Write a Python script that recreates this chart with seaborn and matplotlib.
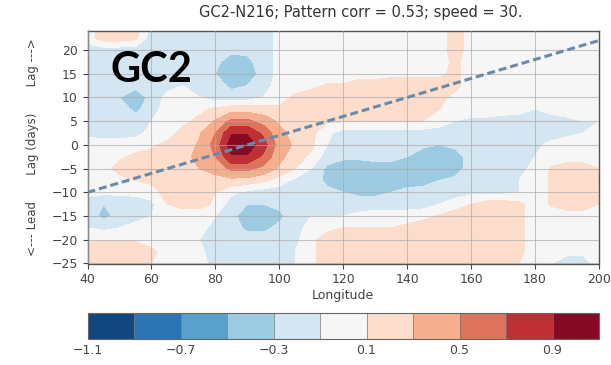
import numpy as np
import matplotlib
matplotlib.use("Agg")
import matplotlib.pyplot as plt
import seaborn as sns

# ---------------- data ----------------
title = "GC2-N216; Pattern corr = 0.53; speed = 30."
panel_label = "GC2"
x_label = "Longitude"
y_label = "<--- Lead       Lag (days)       Lag --->"

longitudes = [40, 45, 50, 55, 60, 65, 70, 75, 80, 85, 90, 95, 100, 105, 110, 115,
              120, 125, 130, 135, 140, 145, 150, 155, 160, 165, 170, 175, 180,
              185, 190, 195, 200]
lags = [25, 22.5, 20, 17.5, 15, 12.5, 10, 7.5, 5, 2.5, 0, -2.5, -5, -7.5, -10,
        -12.5, -15, -17.5, -20, -22.5, -25]

# lag-longitude correlation field (rows = lags, columns = longitudes)
corr_rows = [
    [0, .2, .2, .2, -.2, -.2, -.2, -.2, -.2, -.2, -.2, -.2, -.05, 0, 0, 0, 0, 0, 0, 0, 0, 0, 0, .2, 0, 0, 0, 0, 0, 0, 0, 0, 0],
    [0, .2, .2, .15, -.2, -.2, -.2, -.2, -.2, -.2, -.2, -.2, -.05, 0, 0, 0, 0, 0, 0, 0, 0, 0, 0, .2, 0, 0, 0, 0, 0, 0, 0, 0, 0],
    [-.2, -.2, -.2, -.2, -.2, -.2, -.2, -.2, -.2, -.25, -.25, -.2, -.05, 0, 0, 0, 0, 0, 0, 0, 0, 0, 0, .2, 0, 0, 0, 0, 0, 0, 0, 0, 0],
    [-.2, -.2, -.2, -.2, -.2, -.2, -.2, -.2, -.25, -.4, -.35, -.2, -.05, 0, 0, 0, 0, 0, 0, 0, 0, 0, 0, .15, 0, 0, 0, 0, 0, 0, 0, 0, 0],
    [-.2, -.2, -.2, -.2, -.2, -.2, -.2, -.2, -.3, -.5, -.45, -.2, -.05, 0, 0, 0, 0, 0, 0, .05, .05, .05, .05, .15, 0, 0, 0, 0, 0, 0, 0, 0, 0],
    [-.2, -.2, -.2, -.2, -.2, -.15, -.1, -.2, -.2, -.35, -.3, -.2, 0, 0, .05, .12, .12, .2, .2, .2, .2, .2, .2, .15, 0, 0, 0, 0, 0, 0, 0, 0, 0],
    [-.2, -.2, -.3, -.5, -.2, -.05, 0, -.1, -.2, -.2, -.2, -.1, 0, .15, .2, .2, .2, .2, .2, .2, .2, .2, .15, .05, 0, 0, 0, 0, 0, 0, 0, 0, 0],
    [-.2, -.2, -.2, -.35, -.2, 0, 0, .05, .15, .22, .22, .18, .15, .2, .2, .2, .2, .2, .2, .2, .2, .2, .1, 0, 0, 0, 0, 0, -.1, 0, 0, 0, 0],
    [-.2, -.2, -.2, -.2, -.1, 0, .05, .15, .32, .55, .55, .42, .27, .2, .15, .12, .12, .12, .12, .12, .12, .1, 0, -.1, -.15, -.15, -.2, -.25, -.3, -.25, -.15, -.1, -.1],
    [-.15, -.2, -.2, -.15, -.05, 0, .17, .28, .5, .88, .88, .65, .35, .23, .15, -.05, -.2, -.2, -.2, -.2, -.2, -.2, -.2, -.2, -.2, -.2, -.2, -.2, -.2, -.2, -.15, -.1, -.05],
    [0, 0, 0, 0, .05, .17, .22, .32, .58, 1.0, 1.0, .8, .4, .27, .15, -.1, -.2, -.2, -.2, -.2, -.2, -.25, -.3, -.25, -.2, -.2, -.2, -.2, -.15, -.05, 0, 0, 0],
    [0, 0, .05, .15, .2, .2, .25, .35, .5, .88, .88, .65, .35, .2, .05, -.2, -.25, -.25, -.2, -.2, -.3, -.45, -.45, -.4, -.2, -.2, -.2, -.2, -.1, 0, 0, 0, 0],
    [0, 0, .2, .2, .2, .2, .25, .3, .35, .55, .55, .45, .27, .1, -.1, -.35, -.45, -.45, -.45, -.45, -.45, -.45, -.45, -.4, -.2, -.2, -.2, -.15, -.05, .12, .2, .2, .1],
    [0, 0, 0, .1, .15, .2, .2, .2, .25, .24, .22, .15, 0, -.15, -.2, -.35, -.45, -.45, -.45, -.45, -.45, -.4, -.3, -.25, -.2, -.2, -.2, -.1, 0, .12, .2, .2, .1],
    [-.05, -.05, -.05, -.05, 0, .2, .2, .2, .1, -.05, -.15, -.2, -.2, -.2, -.2, -.25, -.3, -.35, -.35, -.3, -.2, -.2, -.2, -.2, -.15, -.15, -.15, -.1, 0, .12, .2, .2, .1],
    [-.2, -.3, -.25, -.2, -.15, .1, .2, .2, .05, -.2, -.3, -.3, -.25, -.2, -.2, -.2, -.2, -.2, -.2, -.2, -.2, -.2, -.1, 0, .1, .2, .2, .15, 0, .12, .2, .2, .1],
    [-.2, -.35, -.25, -.2, -.1, 0, -.05, -.05, -.1, -.2, -.5, -.5, -.35, -.2, -.1, -.1, -.1, -.05, 0, 0, 0, .05, .12, .2, .2, .2, .2, .15, 0, 0, 0, 0, 0],
    [-.1, -.15, -.1, 0, 0, 0, 0, -.05, -.15, -.2, -.35, -.35, -.25, -.2, 0, .05, .1, .1, .1, .1, .15, .2, .2, .2, .2, .2, .2, .15, 0, 0, 0, 0, 0],
    [.08, .08, .08, .08, 0, 0, 0, -.1, -.15, -.2, -.2, -.2, -.2, -.15, .05, .2, .2, .2, .2, .2, .2, .2, .2, .2, .2, .2, .2, .15, 0, 0, 0, 0, 0],
    [.2, .2, .2, .2, .15, 0, 0, -.05, -.2, -.2, -.2, -.2, -.2, -.1, .05, .2, .2, .2, .2, .2, .2, .2, .2, .2, .2, .2, .2, .15, 0, 0, -.05, -.05, 0],
    [.2, .2, .2, .2, .1, 0, 0, 0, -.2, -.2, -.2, -.2, -.2, -.1, .05, .2, .2, .2, .2, .2, .2, .2, .2, .2, .2, .2, .15, .1, 0, -.1, -.2, -.2, 0],
]

levels = [-1.1, -0.9, -0.7, -0.5, -0.3, -0.1, 0.1, 0.3, 0.5, 0.7, 0.9, 1.1]
cbar_ticks = [-1.1, -0.7, -0.3, 0.1, 0.5, 0.9]
cbar_labels = ["\u22121.1", "\u22120.7", "\u22120.3", "0.1", "0.5", "0.9"]
x_ticks = [40, 60, 80, 100, 120, 140, 160, 180, 200]
y_ticks = [-25, -20, -15, -10, -5, 0, 5, 10, 15, 20]

# phase-speed reference line
line_lon = [40, 200]
line_lag = [-10, 22]

# ---------------- style ----------------
sns.set_theme(style="ticks")
plt.rcParams['font.family'] = ['DejaVu Sans']
text_col = '#444444'

W, H = 611, 365
fig = plt.figure(figsize=(W / 100, H / 100), dpi=100)
ax = fig.add_axes([87.5 / W, 1 - 263.5 / H, (599 - 87.5) / W, (263.5 - 31) / H])
cax = fig.add_axes([87.5 / W, 1 - 338.5 / H, (599 - 87.5) / W, 26 / H])

cmap = sns.color_palette("RdBu_r", as_cmap=True)
field = np.array(corr_rows)
cf = ax.contourf(longitudes, lags, field, levels=levels, cmap=cmap)

sns.lineplot(x=line_lon, y=line_lag, ax=ax, color='#6a8aaa', lw=2.2,
             linestyle=(0, (2.6, 1.3)), zorder=4)

ax.set_xlim(40, 200)
ax.set_ylim(-25, 24)
ax.set_xticks(x_ticks)
ax.set_yticks(y_ticks)
ax.grid(True, color='#a8a8a8', lw=0.8, alpha=0.65)
ax.set_axisbelow(False)
ax.tick_params(axis='both', labelsize=9, colors=text_col, length=3.5, width=0.8)
for s in ax.spines.values():
    s.set_color('#555555')
    s.set_linewidth(1.0)

ax.set_xlabel(x_label, fontsize=9, color=text_col, labelpad=2)
ax.set_ylabel(y_label, fontsize=8.5, color=text_col)
ax.yaxis.set_label_coords(-0.095, 0.5)

fig.text(361 / W, 1 - 13 / H, title, ha='center', va='center', fontsize=10.5, color='#333333')
fig.text(111 / W, 1 - 82 / H, panel_label, ha='left', va='baseline', fontsize=30,
         fontweight='bold', family='Lato', color='black')

cb = fig.colorbar(cf, cax=cax, orientation='horizontal', ticks=cbar_ticks, drawedges=True)
cb.outline.set_edgecolor('#666666')
cb.outline.set_linewidth(0.8)
cb.dividers.set_color('#777777')
cb.dividers.set_linewidth(0.5)
cax.tick_params(labelsize=9, colors=text_col, length=0, pad=4)
cax.set_xticklabels(cbar_labels)

fig.savefig("out.png", dpi=100)
